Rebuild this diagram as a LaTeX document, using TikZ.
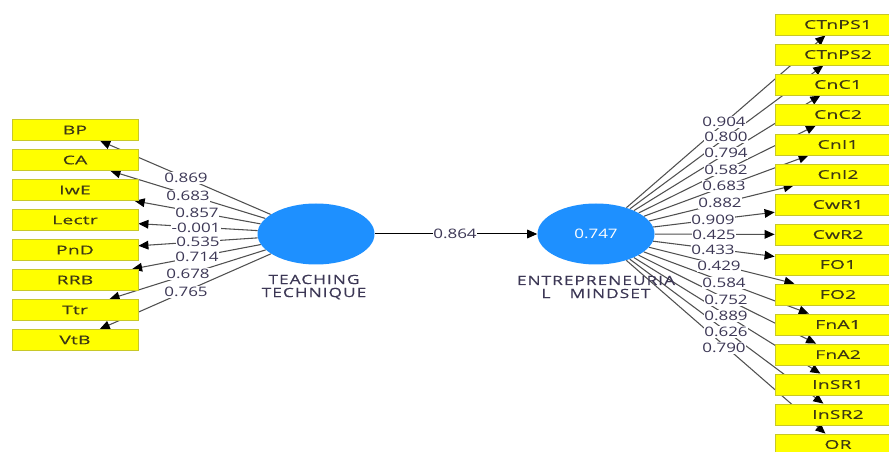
\documentclass[tikz,border=0pt]{standalone}
\usepackage{fontspec}
\usetikzlibrary{shapes.geometric,arrows.meta,backgrounds}
\newfontfamily\coeffont[FakeStretch=1.3]{Open Sans}
\newfontfamily\boxfont[FakeStretch=1.6,LetterSpace=2,FakeBold=0.4]{Open Sans}
\newfontfamily\lvfont[FakeStretch=1.35,LetterSpace=8,FakeBold=0.3]{Open Sans}
\definecolor{lvblue}{RGB}{30,144,255}
\definecolor{indyellow}{RGB}{255,255,0}
\definecolor{indedge}{RGB}{200,200,40}
\definecolor{linegray}{RGB}{80,80,80}
\definecolor{txtgray}{RGB}{60,55,85}
\definecolor{boxtxt}{RGB}{60,55,20}
\begin{document}
\begin{tikzpicture}[x=0.75pt,y=-0.75pt,
  latent/.style={ellipse,fill=lvblue,draw=none,minimum width=87.75pt,minimum height=45.75pt,inner sep=0pt},
  indbox/.style={rectangle,fill=indyellow,draw=indedge,line width=0.6pt,minimum width=94.5pt,minimum height=15.75pt,inner sep=0pt,font=\boxfont\fontsize{9}{10}\selectfont,text=boxtxt},
  load/.style={draw=linegray,line width=0.8pt,-{Triangle[length=7.5pt,width=6.5pt,color=black]}},
  coef/.style={fill=white,inner sep=0.6pt,font=\coeffont\fontsize{9.8}{11}\selectfont,text=txtgray},
  lvlabel/.style={align=center,font=\lvfont\fontsize{9.6}{9.8}\selectfont,text=txtgray}]
\useasboundingbox (0,0) rectangle (889,452);

% latent variables
\node[latent] (TT) at (316,234) {};
\node[latent,text=white,font=\coeffont\fontsize{9.8}{11}\selectfont] (EM) at (596,234) {0.747};
\node[lvlabel] (TTlbl) at (314,287) {TEACHING\\TECHNIQUE};
\node[lvlabel] (EMlbl) at (596,287) {ENTREPRENEURIA\\L\hspace{1.5em}MINDSET};

% indicator boxes of TEACHING TECHNIQUE
\foreach \nm [count=\i from 0] in {BP,CA,IwE,Lectr,PnD,RRB,Ttr,VtB}
  \node[indbox] (\nm) at (75,130+30*\i) {\nm};

% indicator boxes of ENTREPRENEURIAL MINDSET
\foreach \nm [count=\i from 0] in {CTnPS1,CTnPS2,CnC1,CnC2,CnI1,CnI2,CwR1,CwR2,FO1,FO2,FnA1,FnA2,InSR1,InSR2,OR}
  \node[indbox] (\nm) at (838,24.5+30*\i) {\nm};

% outer loadings and structural path, drawn behind the boxes
\begin{pgfonlayer}{background}
  \foreach \nm in {BP,CA,IwE,Lectr,PnD,RRB,Ttr,VtB}
    \draw[load] (TT) -- (\nm);
  \foreach \nm in {CTnPS1,CTnPS2,CnC1,CnC2,CnI1,CnI2,CwR1,CwR2,FO1,FO2,FnA1,FnA2,InSR1,InSR2,OR}
    \draw[load] (EM) -- (\nm);
  \draw[load,draw=black,line width=0.75pt] (TT) -- (EM);
\end{pgfonlayer}

% loading values
\foreach \v/\px/\py [count=\i] in {0.869/186/178,0.683/188/196,0.857/197/213,-0.001/196/228,
    0.535/198/242,0.714/197/257,0.678/188/274,0.765/186/292}
  \node[coef] (cl\i) at (\px,\py) {\v};
\foreach \v/\px/\py [count=\i] in {0.904/724/122,0.800/726/137,0.794/726/153,0.582/726/170,
    0.683/724/186,0.882/720/203,0.909/713/220,0.425/714/235,0.433/713/250,0.429/719/266,
    0.584/724/283,0.752/726/300,0.889/726/316,0.626/726/332,0.790/724/348}
  \node[coef] (cr\i) at (\px,\py) {\v};
\node[coef] (path) at (455,234) {0.864};
\end{tikzpicture}
\end{document}
